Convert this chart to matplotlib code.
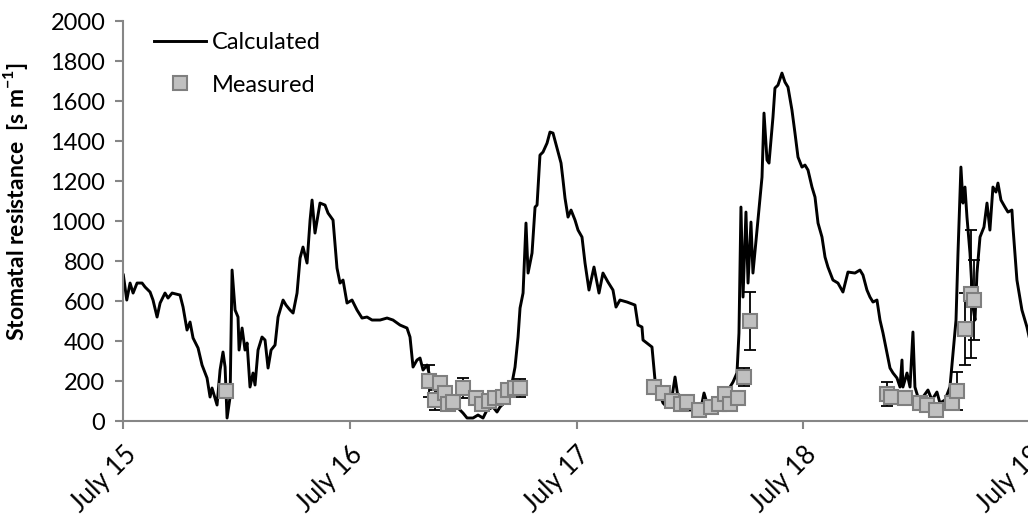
import numpy as np
import matplotlib
matplotlib.use('Agg')
import matplotlib.pyplot as plt

plt.rcParams['font.family'] = ['Lato', 'DejaVu Sans']
plt.rcParams['mathtext.fontset'] = 'custom'
plt.rcParams['mathtext.rm'] = 'Lato'
plt.rcParams['mathtext.bf'] = 'Lato:bold'

# calculated stomatal resistance, hours after July 15 00:00
calc_hours = [0.0, 0.36, 0.71, 1.03, 1.45, 1.98, 2.30, 2.83, 3.14, 3.57, 3.89, 4.41, 4.73, 5.16,
              6.00, 6.32, 6.74, 7.06, 7.38, 7.91, 8.33, 8.86, 9.18, 9.39, 9.92, 10.24, 10.55,
              10.77, 10.98, 11.30, 11.51, 11.83, 12.14, 12.25, 12.57, 12.88, 13.10, 13.41,
              13.73, 13.94, 14.26, 14.68, 15.00, 15.32, 15.64, 16.06, 16.38, 16.91, 17.22,
              17.65, 17.97, 18.39, 18.71, 19.02, 19.45, 19.77, 19.98, 20.29, 20.82, 21.35,
              21.67, 22.20, 22.62, 22.94, 23.26, 23.68, 24.21, 24.74, 25.27, 25.80, 26.33,
              27.18, 27.92, 28.55, 29.29, 30.03, 30.35, 30.67, 31.09, 31.41, 31.73, 32.15,
              32.47, 32.79, 33.21, 33.53, 34.27, 35.33, 35.96, 36.39, 37.02, 37.55, 38.08,
              38.50, 39.14, 39.56, 39.88, 40.62, 41.15, 41.47, 41.79, 42.00, 42.32, 42.63,
              42.85, 43.27, 43.59, 43.80, 44.11, 44.43, 44.86, 45.17, 45.49, 45.91, 46.34,
              46.55, 46.76, 47.08, 47.40, 47.82, 48.14, 48.56, 48.88, 49.30, 49.83, 50.36,
              50.78, 51.31, 51.84, 52.16, 52.58, 53.33, 54.17, 54.49, 54.91, 55.02, 55.97,
              56.29, 56.61, 57.14, 57.56, 58.09, 58.41, 58.72, 59.15, 59.78, 60.74, 61.27,
              61.48, 61.79, 62.64, 63.17, 63.70, 64.23, 64.55, 64.97, 65.18, 65.39, 65.61,
              65.92, 66.14, 66.45, 66.66, 67.09, 67.62, 67.83, 68.15, 68.36, 68.78, 68.99,
              69.31, 69.73, 70.05, 70.37, 70.79, 71.11, 71.43, 71.85, 72.17, 72.49, 72.91,
              73.23, 73.55, 73.97, 74.29, 74.60, 75.13, 75.66, 76.19, 76.72, 77.46, 77.99,
              78.31, 78.73, 79.05, 79.37, 79.79, 80.11, 80.43, 80.85, 81.17, 81.49, 81.91,
              82.23, 82.44, 82.54, 82.97, 83.29, 83.60, 83.81, 84.13, 84.66, 85.19, 85.61,
              86.14, 86.46, 86.99, 87.52, 87.84, 88.16, 88.37, 88.68, 88.90, 89.11, 89.32,
              89.64, 89.96, 90.17, 90.38, 90.70, 91.12, 91.44, 91.75, 92.07, 92.39, 92.60,
              92.92, 93.34, 93.66, 94.08, 94.19, 94.61, 95.14, 95.67, 96.0]
calc_values = [730, 605, 690, 640, 690, 690, 670, 645, 605, 520, 590, 640, 615, 640,
               630, 570, 455, 495, 415, 365, 280, 215, 120, 165, 80, 255, 345,
               270, 15, 120, 755, 555, 520, 355, 465, 355, 390, 170,
               240, 180, 355, 420, 405, 265, 355, 380, 520, 605, 580,
               555, 540, 640, 815, 870, 790, 1005, 1105, 940, 1090, 1080,
               1040, 1005, 765, 690, 705, 590, 605, 555, 515, 520, 505,
               505, 515, 505, 480, 465, 420, 270, 305, 315, 255, 280,
               220, 220, 155, 120, 90, 70, 40, 15, 15, 30, 15,
               55, 70, 45, 70, 105, 190, 270, 420, 565, 640, 990,
               740, 840, 1070, 1080, 1330, 1345, 1390, 1445, 1440, 1365, 1290,
               1205, 1115, 1020, 1055, 1005, 955, 920, 790, 655, 770, 640,
               740, 695, 655, 570, 605, 595, 580, 480, 470, 405, 370,
               205, 155, 90, 70, 120, 220, 120, 70, 55, 55, 90,
               140, 90, 105, 115, 155, 170, 195, 240, 440, 1070, 620,
               1045, 690, 995, 740, 955, 1220, 1540, 1305, 1290, 1520, 1665,
               1680, 1740, 1695, 1670, 1555, 1440, 1320, 1270, 1280, 1255, 1170,
               1120, 990, 920, 820, 770, 705, 690, 645, 745, 740, 755,
               730, 655, 620, 595, 605, 505, 440, 340, 265, 240, 215,
               170, 305, 170, 240, 170, 445, 170, 120, 120, 155, 105,
               145, 90, 105, 170, 340, 505, 840, 1270, 1090, 1170, 1020,
               840, 570, 505, 740, 920, 970, 1090, 955, 1170, 1145, 1190,
               1105, 1070, 1045, 1055, 970, 705, 555, 470, 400]

# measured values with standard deviation
meas_hours = [10.84,
              32.36, 33.00, 33.53, 34.06, 34.38, 34.90, 35.96, 37.34, 37.97, 38.72, 39.35,
              40.20, 40.73, 41.47, 42.00,
              56.18, 57.14, 58.09, 59.04, 59.68, 60.95, 62.22, 63.07, 63.70, 64.23, 65.08,
              65.71, 66.35,
              80.85, 81.27, 82.75, 84.34, 85.08, 86.03, 87.72, 88.25, 89.11, 89.75, 90.06]
meas_values = [150,
               200, 105, 190, 140, 85, 95, 165, 115, 85, 100, 115, 120, 155, 165, 165,
               170, 140, 100, 85, 95, 55, 70, 85, 135, 85, 115, 220, 500,
               135, 120, 115, 90, 80, 55, 90, 150, 460, 635, 605]
meas_sd = [0,
           80, 50, 20, 20, 20, 20, 50, 20, 20, 20, 20, 20, 20, 20, 45,
           20, 20, 20, 20, 20, 20, 20, 20, 35, 20, 20, 45, 145,
           60, 20, 20, 20, 20, 20, 20, 93, 180, 318, 200]

day_ticks = [0, 24, 48, 72, 96]
day_labels = ['July 15', 'July 16', 'July 17', 'July 18', 'July 19']

fig = plt.figure(figsize=(10.28, 5.15), dpi=100)
ax = fig.add_axes([0.12, 0.1825, 0.882, 0.7765])

axis_grey = '#868686'

ax.errorbar(meas_hours, meas_values, yerr=meas_sd, fmt='none', ecolor='black',
            elinewidth=1.3, capsize=4.3, capthick=1.3, zorder=1)
ax.plot(calc_hours, calc_values, color='black', lw=2.1, label='Calculated', zorder=2)
ax.plot(meas_hours, meas_values, ls='none', marker='s', markersize=10.5,
        markerfacecolor='#c0c0c0', markeredgecolor='#7f7f7f', markeredgewidth=1.5,
        label='Measured', zorder=3)

ax.set_xlim(0, 96)
ax.set_ylim(0, 2000)
ax.set_yticks(np.arange(0, 2001, 200))
ax.set_xticks(day_ticks)
ax.set_xticklabels(day_labels, rotation=45, ha='right', va='top', rotation_mode='anchor')

for s in ['top', 'right']:
    ax.spines[s].set_visible(False)
for s in ['left', 'bottom']:
    ax.spines[s].set_color(axis_grey)
    ax.spines[s].set_linewidth(1.5)
ax.tick_params(axis='both', colors=axis_grey, labelcolor='black', labelsize=17,
               length=6, width=1.5)
ax.tick_params(axis='x', pad=9, labelsize=18.5)
ax.tick_params(axis='y', pad=7)

ax.set_ylabel(r'Stomatal resistance  [s m$^{\mathbf{-1}}$]', fontsize=16.5, fontweight='bold')
ax.yaxis.set_label_coords(-0.103, 0.548)

ax.legend(loc='upper left', bbox_to_anchor=(0.01, 1.025), frameon=False, fontsize=17,
          handlelength=2.2, handletextpad=0.25, labelspacing=0.9)

fig.savefig('out.png', dpi=100)
